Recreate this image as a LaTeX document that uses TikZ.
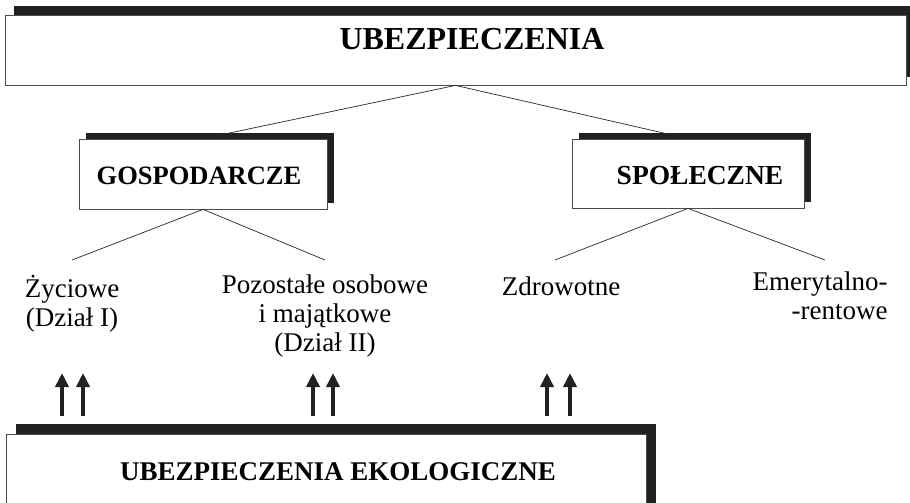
\documentclass[tikz,border=0pt]{standalone}
\usepackage{fontspec}
\setmainfont{Liberation Serif}
\usetikzlibrary{shadows,arrows.meta}
\tikzset{
  shadow box/.style={
    rectangle,
    fill=white,
    draw=black!70,
    line width=0.8pt,
    drop shadow={shadow xshift=#1, shadow yshift=#1, fill=black!87, opacity=1},
  },
  box title/.style={
    font=\fontsize{#1}{#1}\selectfont\bfseries,
    inner sep=0pt,
  },
  leaf/.style={
    font=\fontsize{27}{29}\selectfont,
    align=center,
    anchor=north,
    inner sep=0pt,
    execute at begin node=\strut,
  },
  branch/.style={
    draw=black!85,
    line width=0.7pt,
  },
  up arrow/.style={
    -{Triangle[width=13pt,length=14pt]},
    line width=3.5pt,
    black!87,
  }
}
\begin{document}
\begin{tikzpicture}[x=1pt, y=-1pt]
        \useasboundingbox (0,0) rectangle (910,503);
        \clip (0,0) rectangle (910,503);

        \node [shadow box=8.5pt, minimum width=901pt, minimum height=70pt] (ubez) at (455.5,50) {};
        \node [shadow box=6.5pt, minimum width=248pt, minimum height=70pt] (gosp) at (203,174) {};
        \node [shadow box=6.5pt, minimum width=232pt, minimum height=69pt] (spol) at (688,173.5) {};
        \node [shadow box=10pt, minimum width=640pt, minimum height=132pt] (eko) at (326,500) {};

        \node [box title=32] (ubez text) at (472,39) {UBEZPIECZENIA};
        \node [box title=26.5] (gosp text) at (199,176) {GOSPODARCZE};
        \node [box title=27.5] (spol text) at (700,176) {SPOŁECZNE};
        \node [box title=27] (eko text) at (338,472) {UBEZPIECZENIA EKOLOGICZNE};

        \node [leaf] (zyc) at (72,275) {Życiowe\\(Dział I)};
        \node [leaf] (poz) at (325,275) {Pozostałe osobowe\\i majątkowe\\(Dział II)};
        \node [leaf] (zdr) at (561,275) {Zdrowotne};
        \node [leaf, align=right] (eme) at (820,272) {Emerytalno-\\-rentowe};

        \draw [branch] (ubez.south) -- (gosp.north);
        \draw [branch] (ubez.south) -- (spol.north);
        \draw [branch] (gosp.south) -- ([yshift=15pt]zyc.north);
        \draw [branch] (gosp.south) -- ([yshift=15pt]poz.north);
        \draw [branch] (spol.south) -- ([yshift=15pt, xshift=-6pt]zdr.north);
        \draw [branch] (spol.south) -- ([yshift=12pt, xshift=5pt]eme.north);

        \foreach \x in {62,83,313,333,547,570}
            \draw [up arrow] (\x,416) -- (\x,373);
    \end{tikzpicture}
\end{document}
